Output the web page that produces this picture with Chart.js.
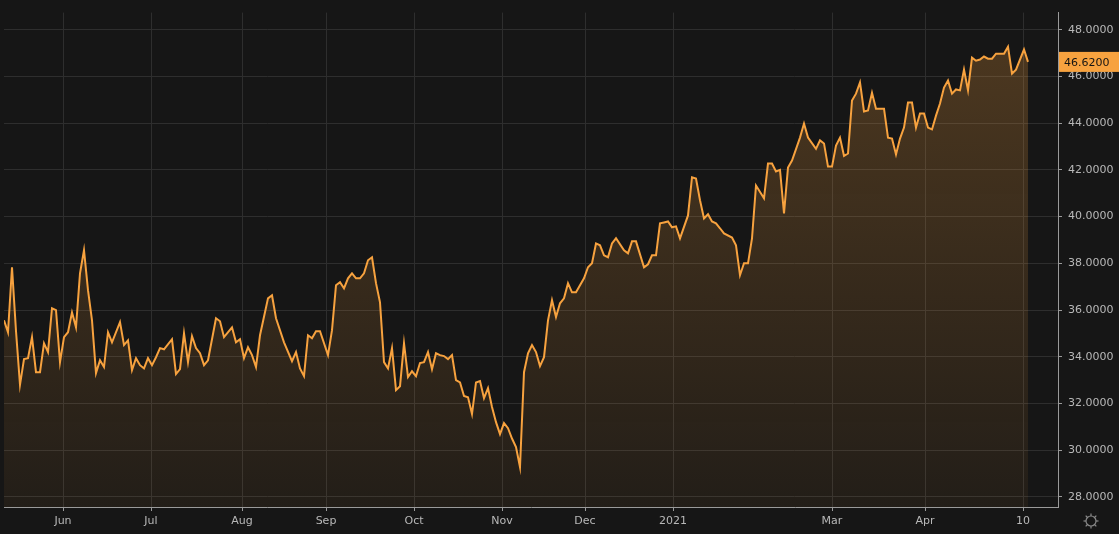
<!DOCTYPE html>
<html>
<head>
<meta charset="utf-8">
<script src="https://cdn.jsdelivr.net/npm/chart.js@4/dist/chart.umd.min.js"></script>
<style>
  html, body { margin: 0; padding: 0; background: #161616; }
  #wrap { width: 1119px; height: 534px; position: relative; }
</style>
</head>
<body>
<div id="wrap"><canvas id="chart"></canvas></div>
<script>
// indice de sesion (aprox.) y precio de cierre
var days = [0,1,2,3,4,5,6,7,8,9,10,11,12,13,14,15,16,17,18,19,20,21,22,23,24,25,26,27,29,30,31,32,33,34,35,36,37,38,39,40,42,43,44,45,46,47,48,49,50,51,53,54,55,57,58,59,60,61,62,63,64,66,
  67,68,70,72,73,74,75,76,77,78,79,81,82,83,84,85,86,87,88,89,90,91,92,93,94,95,96,97,98,99,100,101,102,103,104,105,106,107,108,109,110,111,112,113,114,115,116,117,118,119,120,121,122,123,124,125,126,127,128,129,130,131,132,133,134,135,136,137,
  138,139,140,141,142,143,145,146,147,148,149,150,151,152,153,155,156,157,158,160,161,162,163,164,165,166,167,168,169,171,172,173,174,175,176,177,178,179,180,182,183,184,185,186,187,188,190,191,192,193,194,195,196,197,
  199,200,201,203,204,205,206,207,208,209,210,211,212,213,214,215,216,217,218,220,221,222,223,224,225,226,227,228,229,230,231,232,233,234,235,236,237,238,239,240,241,242,243,244,245,246,247,248,249,250,251,252,253,255,256];
var prices = [35.56,35.05,37.83,35.1,32.8,33.9,33.94,34.84,33.34,33.34,34.58,34.2,36.08,36.0,33.77,34.84,35.05,35.9,35.26,37.57,38.56,36.85,35.56,33.3,33.85,33.56,35.05,34.62,35.48,34.5,34.7,33.43,33.94,33.64,33.5,33.94,33.64,33.98,34.37,34.32,34.75,33.26,33.47,35.0,33.77,34.88,34.37,34.15,33.64,33.85,35.65,35.52,34.84,35.26,34.62,34.75,33.94,34.41,34.07,33.56,34.92,36.5,
  36.63,35.65,34.62,33.81,34.2,33.5,33.17,34.92,34.79,35.09,35.09,34.07,35.14,37.06,37.19,36.93,37.36,37.57,37.36,37.36,37.57,38.13,38.26,37.15,36.33,33.77,33.5,34.37,32.57,32.74,34.58,33.13,33.38,33.17,33.73,33.77,34.2,33.47,34.15,34.07,34.03,33.9,34.07,33.0,32.9,32.32,32.27,31.55,32.9,32.96,32.23,32.66,31.85,31.2,30.69,31.16,30.94,30.5,30.14,29.28,33.34,34.15,34.5,34.2,33.6,33.98,35.56,36.42,
  35.7,36.29,36.5,37.15,36.76,36.76,37.36,37.83,38.0,38.85,38.77,38.34,38.26,38.85,39.07,38.56,38.43,38.94,38.94,37.83,37.96,38.34,38.34,39.71,39.75,39.79,39.54,39.58,39.07,40.05,41.68,41.63,40.7,39.92,40.1,39.79,39.71,39.5,39.28,39.1,38.77,37.49,38.0,38.0,39.07,41.33,40.78,42.27,42.27,41.93,42.0,40.14,42.1,42.4,
  43.38,43.98,43.38,42.9,43.26,43.13,42.14,42.14,43.04,43.38,42.6,42.7,44.97,45.26,45.74,44.5,44.54,45.3,44.62,44.62,43.38,43.34,42.66,43.34,43.81,44.88,44.88,43.81,44.41,44.41,43.81,43.73,44.32,44.84,45.52,45.82,45.26,45.44,45.4,46.29,45.4,46.8,46.67,46.72,46.85,46.76,46.76,46.97,46.97,46.97,47.27,46.12,46.29,47.15,46.62];

// etiquetas del eje x
var tickDays = [14.75, 36.75, 59.5, 80.5, 102.5, 124.5, 145.25, 167.25, 207, 230.25, 254.75];
var tickLabels = ['Jun', 'Jul', 'Aug', 'Sep', 'Oct', 'Nov', 'Dec', '2021', 'Mar', 'Apr', '10'];
var lastPrice = 46.62;

var puntos = days.map(function(d, i){ return {x: d, y: prices[i]}; });

// etiqueta naranja con el ultimo precio
var lastLabel = {
  id: 'lastLabel',
  afterDraw: function(chart){
    var c = chart.ctx, y = chart.scales.y.getPixelForValue(lastPrice), a = chart.chartArea;
    c.save();
    c.fillStyle = '#f7a23f';
    c.fillRect(a.right + 1, y - 10, 60, 20);
    c.fillStyle = '#131313';
    c.font = '11px "DejaVu Sans"';
    c.textBaseline = 'middle';
    c.fillText(lastPrice.toFixed(4), a.right + 6, y + 1);
    // engrane abajo a la derecha
    c.strokeStyle = '#8a8a8a'; c.lineWidth = 1.2;
    c.beginPath(); c.arc(1091, 521, 5, 0, Math.PI * 2); c.stroke();
    for (var k = 0; k < 8; k++) {
      var t = k * Math.PI / 4;
      c.beginPath();
      c.moveTo(1091 + Math.cos(t) * 5, 521 + Math.sin(t) * 5);
      c.lineTo(1091 + Math.cos(t) * 7.5, 521 + Math.sin(t) * 7.5);
      c.stroke();
    }
    c.restore();
  }
};

var ctx = document.getElementById('chart').getContext('2d');
var grad = ctx.createLinearGradient(0, 0, 0, 507);
grad.addColorStop(0, 'rgba(247,162,63,0.26)');
grad.addColorStop(1, 'rgba(247,162,63,0.06)');

var chart = new Chart(ctx, {
  type: 'line',
  data: {
    datasets: [{
      data: puntos,
      borderColor: '#f7a23f',
      borderWidth: 2,
      backgroundColor: grad,
      fill: 'start',
      pointRadius: 0,
      tension: 0
    }]
  },
  options: {
    responsive: true,
    maintainAspectRatio: false,
    animation: false,
    layout: { padding: { left: 4, top: 0, right: 0, bottom: 0 } },
    plugins: { legend: { display: false }, tooltip: { enabled: false } },
    scales: {
      x: {
        type: 'linear',
        min: 0,
        max: 263.5,
        afterBuildTicks: function(s){ s.ticks = tickDays.map(function(v){ return {value: v}; }); },
        afterFit: function(s){ s.height = 27; },
        ticks: {
          autoSkip: false,
          maxRotation: 0,
          color: '#b8b8b8',
          font: { family: 'DejaVu Sans', size: 11 },
          padding: 4,
          callback: function(v, i){ return tickLabels[i]; }
        },
        grid: { color: '#2e2e2e', tickLength: 4, tickColor: '#9a9a9a' },
        border: { color: '#9a9a9a', width: 1 }
      },
      y: {
        position: 'right',
        min: 27.57,
        max: 48.73,
        afterBuildTicks: function(s){
          var t = [];
          for (var v = 28; v <= 48; v += 2) t.push({value: v});
          s.ticks = t;
        },
        afterFit: function(s){ s.width = 61; },
        ticks: {
          color: '#b8b8b8',
          font: { family: 'DejaVu Sans', size: 11 },
          padding: 6,
          callback: function(v){ return v.toFixed(4); }
        },
        grid: { color: '#2e2e2e', tickLength: 4, tickColor: '#9a9a9a' },
        border: { color: '#9a9a9a', width: 1 }
      }
    }
  },
  plugins: [lastLabel]
});
</script>
</body>
</html>
